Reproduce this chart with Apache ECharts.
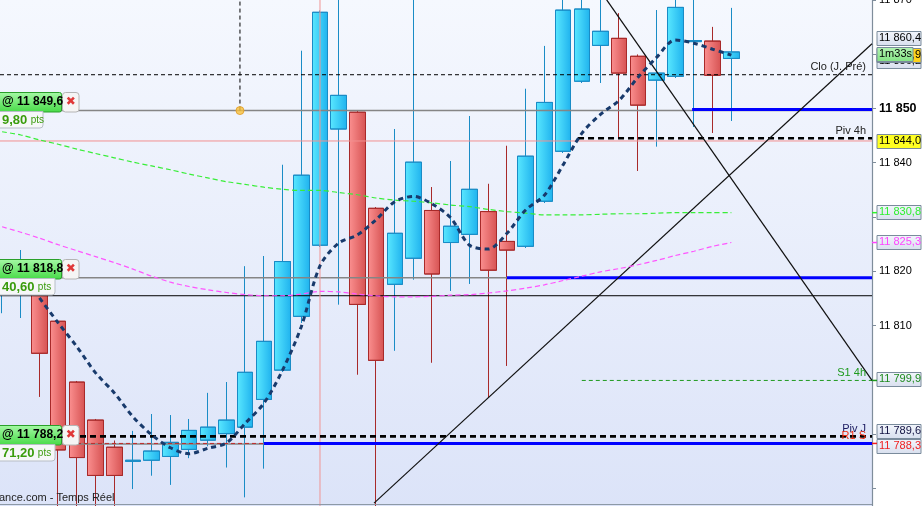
<!DOCTYPE html>
<html>
<head>
<meta charset="utf-8">
<title>CAC 40 - 1 min</title>
<script src="https://cdn.jsdelivr.net/npm/echarts@6/dist/echarts.min.js"></script>
<style>
html, body { margin: 0; padding: 0; background: #fff; }
#main { width: 923px; height: 506px; }
</style>
</head>
<body>
<div id="main"></div>
<script>
// bougies (index 0 = bougie coupée au bord gauche)
var candleOpen  = [11815.8, 11816.2, 11820.5, 11810.8, 11799.6, 11792.6, 11787.6, 11785.0, 11785.2, 11785.9,
                   11787.2, 11788.9, 11790.1, 11791.3, 11796.4, 11801.8, 11811.7, 11824.8, 11846.2, 11849.3,
                   11831.6, 11817.6, 11822.4, 11831.2, 11825.3, 11826.8, 11831.0, 11825.5, 11824.6, 11832.9,
                   11842.1, 11855.0, 11861.6, 11862.9, 11859.6, 11855.2, 11855.9, 11862.3, 11862.4, 11859.2];
var candleClose = [11818.0, 11821.0, 11804.9, 11787.1, 11785.7, 11782.4, 11782.4, 11785.2, 11786.9, 11788.5,
                   11790.7, 11791.3, 11792.6, 11801.4, 11807.1, 11821.8, 11837.7, 11867.7, 11852.4, 11813.9,
                   11803.6, 11827.0, 11840.1, 11819.5, 11828.3, 11835.1, 11820.2, 11823.9, 11841.2, 11851.1,
                   11868.1, 11868.3, 11864.2, 11856.5, 11850.6, 11856.5, 11868.6, 11862.5, 11856.1, 11860.4];
var candleLow   = [11812.3, 11811.4, 11796.9, 11775.0, 11775.0, 11775.5, 11775.5, 11779.9, 11782.4, 11780.7,
                   11785.6, 11787.8, 11783.9, 11778.4, 11783.7, 11801.5, 11810.5, 11824.5, 11813.9, 11801.0,
                   11775.0, 11805.4, 11818.5, 11803.2, 11816.4, 11817.7, 11796.7, 11802.6, 11824.3, 11832.6,
                   11841.8, 11854.7, 11854.7, 11844.5, 11838.5, 11843.0, 11855.6, 11846.6, 11845.5, 11847.7];
var candleHigh  = [11820.2, 11823.9, 11821.3, 11811.0, 11799.8, 11792.8, 11788.8, 11790.6, 11793.7, 11793.5,
                   11792.8, 11797.6, 11799.6, 11820.9, 11822.8, 11839.6, 11860.6, 11868.0, 11871.0, 11849.5,
                   11831.8, 11846.2, 11871.0, 11835.5, 11840.3, 11848.6, 11836.1, 11843.1, 11853.6, 11861.5,
                   11871.0, 11871.0, 11871.0, 11867.5, 11859.9, 11868.1, 11871.0, 11871.0, 11865.0, 11868.5];

// moyennes mobiles
var maFast = [null, null, 11815.1, 11810.5, 11806.1, 11801.3, 11797.6, 11793.2, 11789.9, 11787.5,
              11786.4, 11787.4, 11788.4, 11792.0, 11795.7, 11801.8, 11809.8, 11821.0, 11825.2, 11826.7,
              11829.5, 11832.8, 11833.8, 11832.4, 11829.8, 11824.8, 11824.1, 11827.0, 11831.3, 11834.0,
              11839.6, 11845.4, 11848.9, 11851.5, 11855.7, 11859.4, 11862.6, 11862.0, 11860.9, 11859.8];
var maSlow = [11845.7, 11845.1, 11844.2, 11843.4, 11842.5, 11841.7, 11840.9, 11840.1, 11839.4, 11838.7,
              11837.9, 11837.2, 11836.5, 11836.0, 11835.5, 11835.1, 11834.9, 11834.9, 11834.5, 11834.1,
              11833.5, 11833.1, 11832.9, 11832.6, 11832.2, 11831.9, 11831.4, 11831.0, 11830.7, 11830.4,
              11830.4, 11830.4, 11830.5, 11830.6, 11830.6, 11830.7, 11830.8, 11830.8, 11830.8, 11830.8];
var maLong = [11828.2, 11827.2, 11826.1, 11824.9, 11823.8, 11822.7, 11821.6, 11820.4, 11819.1, 11818.0,
              11817.2, 11816.6, 11816.1, 11815.7, 11815.5, 11815.5, 11815.8, 11816.3, 11816.2, 11815.8,
              11815.5, 11815.3, 11815.3, 11815.4, 11815.6, 11815.7, 11816.0, 11816.4, 11816.9, 11817.5,
              11818.3, 11819.1, 11819.9, 11820.5, 11821.2, 11822.0, 11822.9, 11823.7, 11824.6, 11825.3];

// ordres (étiquettes de gauche)
var orderPrices = [11849.6, 11818.8, 11788.2];
var orderPts = ['9,80', '40,60', '71,20'];

// niveaux
var pivotNames  = ['Clo (J. Pré)', 'Piv 4h', 'S1 4h', 'Piv J', 'R1 S'];
var pivotValues = [11856.2, 11844.5, 11799.9, 11789.6, 11788.3];
var pivotFrom   = [null, 30.8, 31.0, null, 14.0];
var blueLevels  = [11849.8, 11818.8, 11788.3];
var blueFrom    = [36.9, 27.0, 14.0];
var alertLevel  = 11844.0;
var thinLevel   = 11815.5;
var quoteLevel  = 11859.9;
var timerText   = '1m33s';

// droites tracées et repères
var trendDown = [[32.33, 11870.0], [46.52, 11799.9]];
var trendUp   = [[19.89, 11777.3], [46.52, 11861.9]];
var markerIndex = 17;
var pinIndex = 12.72;

var X_MIN = -0.112, X_MAX = 46.52;
var FONT = '"Liberation Sans", Arial, sans-serif';

function grp(n) { return String(n).replace(/\B(?=(\d{3})+(?!\d))/g, ' '); }
function fmtDec(v) { var p = v.toFixed(1).split('.'); return grp(p[0]) + ',' + p[1]; }

var candles = candleOpen.map(function (o, i) {
  return [i, o, candleClose[i], candleLow[i], candleHigh[i]];
});
function toLine(arr) { return arr.map(function (v, i) { return [i, v]; }); }

function hLine(v, x0, x1, color, width, type, z) {
  return {
    type: 'line', data: [[x0 == null ? X_MIN : x0, v], [x1 == null ? X_MAX : x1, v]],
    symbol: 'none', silent: true, z: z || 4,
    lineStyle: { color: color, width: width, type: type }
  };
}
function segment(pts, color, width, type, z) {
  return {
    type: 'line', data: pts, symbol: 'none', silent: true, z: z || 4,
    lineStyle: { color: color, width: width, type: type }
  };
}

var chart = echarts.init(document.getElementById('main'));

var series = [
  {
    type: 'candlestick',
    data: candles,
    encode: { x: 0, y: [1, 2, 3, 4] },
    barWidth: 16,
    z: 2,
    itemStyle: {
      color: new echarts.graphic.LinearGradient(0, 0, 1, 0, [
        { offset: 0, color: '#5ae8ff' }, { offset: 1, color: '#1fb2ee' }]),
      color0: new echarts.graphic.LinearGradient(0, 0, 1, 0, [
        { offset: 0, color: '#fb9090' }, { offset: 1, color: '#d65252' }]),
      borderColor: '#1a8cc6',
      borderColor0: '#a82a2a',
      borderWidth: 1
    }
  },
  // lignes fines de fond
  hLine(alertLevel, null, null, '#f29090', 1, 'solid', 3),
  hLine(thinLevel, null, null, '#000', 1, 'solid', 3),
  hLine(orderPrices[0], null, null, '#858585', 1.5, 'solid', 3),
  hLine(orderPrices[1], null, null, '#858585', 1.5, 'solid', 3),
  hLine(orderPrices[2], null, null, '#858585', 1.5, 'solid', 3),
  segment([[markerIndex, 11760], [markerIndex, 11880]], '#f09494', 1, 'solid', 3),
  // pivots
  hLine(pivotValues[0], pivotFrom[0], null, '#000', 1, [4, 3], 5),
  hLine(pivotValues[1], pivotFrom[1], null, '#000', 2.6, [6, 4], 5),
  hLine(pivotValues[2], pivotFrom[2], null, '#1e9a1e', 1, [4, 3], 5),
  hLine(pivotValues[3], pivotFrom[3], null, '#000', 2.6, [6, 4], 5),
  hLine(pivotValues[4], null, pivotFrom[4], '#c02a2a', 1, [4, 3], 5),
  // niveaux bleus
  hLine(blueLevels[0], blueFrom[0], null, '#0000ff', 3, 'solid', 5),
  hLine(blueLevels[1], blueFrom[1], null, '#0000ff', 3, 'solid', 5),
  hLine(blueLevels[2], blueFrom[2], null, '#0000ff', 3, 'solid', 5),
  // droites
  segment(trendDown, '#111', 1.2, 'solid', 6),
  segment(trendUp, '#111', 1.2, 'solid', 6),
  segment([[pinIndex, orderPrices[0]], [pinIndex, 11872]], '#000', 1, [4, 3], 6),
  // moyennes mobiles
  {
    type: 'line', data: toLine(maSlow), symbol: 'none', silent: true, smooth: 0.3, z: 6,
    lineStyle: { color: '#38ee38', width: 1.2, type: [5, 3] }
  },
  {
    type: 'line', data: toLine(maLong), symbol: 'none', silent: true, smooth: 0.3, z: 6,
    lineStyle: { color: '#ff55ff', width: 1.2, type: [5, 3] }
  },
  {
    type: 'line', data: toLine(maFast), symbol: 'none', silent: true, smooth: 0.3, z: 7,
    connectNulls: false,
    lineStyle: { color: '#183a6c', width: 3, type: [5, 4] }
  },
  {
    type: 'scatter', data: [[pinIndex, orderPrices[0]]], symbolSize: 8, z: 8, silent: true,
    itemStyle: { color: '#f9c23c', borderColor: '#e09a20', borderWidth: 1 }
  }
];

var option = {
  animation: false,
  backgroundColor: '#fff',
  grid: {
    left: 0, right: 51, top: -0.2, bottom: -36.8,
    containLabel: false, outerBoundsMode: 'none',
    show: true, borderWidth: 0,
    backgroundColor: new echarts.graphic.LinearGradient(0, 0, 0, 1, [
      { offset: 0, color: '#f5f8fe' }, { offset: 1, color: '#dae2f8' }])
  },
  xAxis: {
    type: 'value', min: X_MIN, max: X_MAX, show: false
  },
  yAxis: {
    type: 'value', position: 'right', min: 11770, max: 11870, interval: 10,
    axisLine: { show: true, onZero: false, lineStyle: { color: '#7f8d9b', width: 1.2 } },
    axisTick: { show: true, length: 4, lineStyle: { color: '#7f8d9b' } },
    splitLine: { show: false },
    axisLabel: {
      margin: 7, color: '#000', fontSize: 11, fontFamily: FONT,
      formatter: function (v) {
        if (v === 11780 || v === 11770) return '';
        return v === 11850 ? '{b|' + grp(v) + '}' : grp(v);
      },
      rich: { b: { fontWeight: 'bold', fontSize: 12.5, fontFamily: FONT, color: '#000' } }
    }
  },
  series: series
};
chart.setOption(option);

// étiquettes et cartouches
function py(v) { return chart.convertToPixel({ yAxisIndex: 0 }, v); }
var axisX = chart.convertToPixel({ xAxisIndex: 0 }, X_MAX);
var els = [];

var tagFill = new echarts.graphic.LinearGradient(0, 0, 0, 1, [
  { offset: 0, color: '#f3f6fc' }, { offset: 1, color: '#d8dfee' }]);

function rightTag(v, dy, text, color, fill, w, z, tickColor) {
  var cy = py(v) + dy;
  els.push({
    type: 'rect', z: z, shape: { x: axisX + 5, y: Math.round(cy - 7) + 0.5, width: w || 44, height: 14 },
    style: { fill: fill || tagFill, stroke: '#7a8b9c', lineWidth: 1 }
  });
  els.push({
    type: 'text', z: z, x: axisX + 7, y: cy,
    style: { text: text, fill: color, font: '11px ' + FONT, verticalAlign: 'middle', align: 'left' }
  });
  if (tickColor) {
    els.push({
      type: 'line', z: z, shape: { x1: axisX, y1: py(v), x2: axisX + 5, y2: py(v) },
      style: { stroke: tickColor, lineWidth: 1.5 }
    });
  }
}

rightTag(pivotValues[0], -14, fmtDec(pivotValues[0]), '#000', null, 44, 100);
rightTag(quoteLevel, 0, fmtDec(quoteLevel), '#000', '#ffd21a', 44, 101);
rightTag(quoteLevel, -1, timerText, '#000', new echarts.graphic.LinearGradient(0, 0, 0, 1, [
  { offset: 0, color: '#b4f4b4' }, { offset: 1, color: '#82e282' }]), 36, 102);
rightTag(candleClose[candleClose.length - 1], -13.5, fmtDec(candleClose[candleClose.length - 1]), '#000', null, 44, 103);
rightTag(alertLevel, 0, fmtDec(alertLevel), '#000', '#ffff22', 44, 100);
rightTag(maSlow[maSlow.length - 1], -1, fmtDec(maSlow[maSlow.length - 1]), '#2ef02e', null, 44, 100, '#2ef02e');
rightTag(maLong[maLong.length - 1], -1, fmtDec(maLong[maLong.length - 1]), '#ff44ff', null, 44, 100, '#ff44ff');
rightTag(pivotValues[2], -1, fmtDec(pivotValues[2]), '#1e8a1e', null, 44, 100, '#1e9a1e');
rightTag(pivotValues[3], -5, fmtDec(pivotValues[3]), '#101040', null, 44, 100);
rightTag(pivotValues[4], 3, fmtDec(pivotValues[4]), '#f02020', null, 44, 100, '#f02020');

// noms des pivots
var pivotColors = ['#222', '#222', '#1e9a1e', '#1a1a60', '#f02a10'];
pivotNames.forEach(function (n, i) {
  els.push({
    type: 'text', z: 90, x: axisX - 6, y: py(pivotValues[i]) - 2,
    style: { text: n, fill: pivotColors[i], font: '11px ' + FONT, align: 'right', verticalAlign: 'bottom' }
  });
});

// ordres à gauche
var greenFill = new echarts.graphic.LinearGradient(0, 0, 0, 1, [
  { offset: 0, color: '#a6f9a6' }, { offset: 1, color: '#46da46' }]);
orderPrices.forEach(function (p, i) {
  var cy = Math.round(py(p));
  els.push({
    type: 'rect', z: 110, shape: { x: -2, y: cy - 19 + 0.5, width: 63.5, height: 19.5, r: [0, 2, 2, 0] },
    style: { fill: greenFill, stroke: '#2aa02a', lineWidth: 1 }
  });
  els.push({
    type: 'text', z: 111, x: 2, y: cy - 9,
    style: { text: '@ ' + fmtDec(p), fill: '#000', font: 'bold 12px ' + FONT, verticalAlign: 'middle' }
  });
  els.push({
    type: 'rect', z: 110, shape: { x: 62.5, y: cy - 19 + 0.5, width: 16.5, height: 19.5, r: 3 },
    style: { fill: '#f5f5f5', stroke: '#b4b4b4', lineWidth: 1 }
  });
  els.push({
    type: 'text', z: 111, x: 70.8, y: cy - 9,
    style: { text: '\u2716', fill: '#e03838', font: 'bold 12px "DejaVu Sans"', align: 'center', verticalAlign: 'middle' }
  });
  var w = 43 + (orderPts[i].length - 4) * 12;
  els.push({
    type: 'rect', z: 110, shape: { x: -2, y: cy + 0.5, width: w + 2, height: 16.5, r: [0, 0, 3, 0] },
    style: { fill: '#f6f7f9', stroke: '#b8bec6', lineWidth: 1 }
  });
  els.push({
    type: 'text', z: 111, x: 2, y: cy + 9,
    style: {
      text: '{a|' + orderPts[i] + '} {b|pts}', verticalAlign: 'middle',
      rich: {
        a: { fill: '#3a9c0c', font: 'bold 13px ' + FONT },
        b: { fill: '#3a9c0c', font: '10px ' + FONT }
      }
    }
  });
});

// cadre bas et source
els.push({
  type: 'line', z: 95, shape: { x1: 0, y1: 504.5, x2: axisX, y2: 504.5 },
  style: { stroke: '#8d99a6', lineWidth: 1 }
});
els.push({
  type: 'text', z: 96, x: -1, y: 498,
  style: { text: 'ance.com - Temps Réel', fill: '#222', font: '11px ' + FONT, verticalAlign: 'middle' }
});

chart.setOption({ graphic: { elements: els } });
</script>
</body>
</html>
